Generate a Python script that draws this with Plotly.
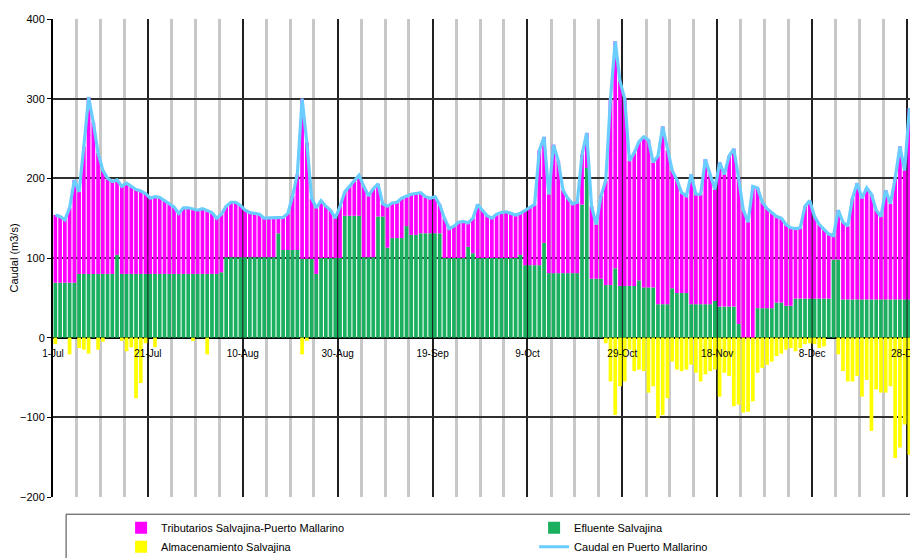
import pandas as pd
import plotly.graph_objects as go

# daily values, 1-Jul to 30-Dec (m3/s); 31-Dec falls outside the picture
dias = pd.date_range("2007-07-01", periods=182, freq="D")

caudal_mallarino = [
    154, 152, 148, 163, 198, 183, 240, 302, 270, 232, 210, 200, 196, 198, 190, 194, 190, 186, 184, 181,
    175, 177, 176, 172, 168, 164, 156, 163, 163, 162, 160, 162, 160, 157, 150, 155, 165, 170, 170, 166,
    160, 157, 156, 155, 150, 150, 150, 151, 151, 156, 178, 205, 300, 245, 175, 163, 172, 165, 160, 150,
    165, 183, 190, 196, 204, 190, 178, 187, 193, 168, 165, 169, 170, 175, 178, 180, 181, 182, 177, 175,
    177, 167, 150, 137, 140, 145, 146, 144, 150, 167, 160, 153, 150, 155, 157, 158, 156, 154, 156, 160,
    164, 167, 235, 252, 180, 242, 222, 185, 175, 168, 170, 230, 257, 165, 142, 178, 197, 300, 372, 322,
    300, 222, 232, 246, 252, 248, 220, 228, 265, 235, 210, 198, 182, 178, 205, 180, 180, 224, 205, 186,
    220, 205, 228, 237, 200, 160, 145, 190, 188, 170, 162, 157, 152, 150, 142, 138, 137, 138, 165, 172,
    152, 142, 136, 130, 128, 160, 145, 140, 175, 194, 175, 188, 180, 160, 152, 185, 168, 200, 240, 210,
    288, 255,
]

efluente = [
    69, 69, 69, 69, 69, 80, 80, 80, 80, 80, 80, 80, 80, 104, 80, 80, 80, 80, 80, 80,
    80, 80, 80, 80, 80, 80, 80, 80, 80, 80, 80, 80, 80, 80, 80, 82, 101, 101, 101, 101,
    101, 101, 101, 101, 101, 101, 101, 131, 110, 110, 110, 110, 99, 99, 99, 80, 100, 100, 100, 100,
    100, 153, 153, 153, 153, 101, 101, 101, 152, 152, 113, 125, 125, 125, 140, 129, 129, 131, 131, 131,
    131, 131, 100, 100, 100, 100, 100, 114, 106, 100, 100, 100, 100, 100, 100, 100, 100, 100, 104, 91,
    91, 91, 91, 119, 81, 81, 81, 81, 81, 81, 81, 167, 213, 74, 74, 74, 66, 66, 87, 65,
    65, 65, 65, 72, 63, 63, 63, 42, 42, 42, 62, 56, 56, 56, 42, 42, 42, 42, 42, 46,
    39, 39, 39, 39, 17, 0, 0, 0, 37, 37, 37, 37, 44, 44, 40, 40, 49, 49, 49, 49,
    49, 49, 49, 49, 98, 98, 48, 48, 48, 48, 48, 48, 48, 48, 48, 48, 48, 48, 48, 48,
    48, 50,
]

tributarios = [
    85, 83, 79, 94, 129, 103, 160, 222, 190, 152, 130, 120, 116, 94, 110, 114, 110, 106, 104, 101,
    95, 97, 96, 92, 88, 84, 76, 83, 83, 82, 80, 82, 80, 77, 70, 73, 64, 69, 69, 65,
    59, 56, 55, 54, 49, 49, 49, 20, 41, 46, 68, 95, 201, 146, 76, 83, 72, 65, 60, 50,
    65, 30, 37, 43, 51, 89, 77, 86, 41, 16, 52, 44, 45, 50, 38, 51, 52, 51, 46, 44,
    46, 36, 50, 37, 40, 45, 46, 30, 44, 67, 60, 53, 50, 55, 57, 58, 56, 54, 52, 69,
    73, 76, 144, 133, 99, 161, 141, 104, 94, 87, 89, 63, 44, 91, 68, 104, 131, 234, 285, 257,
    235, 157, 167, 174, 189, 185, 157, 186, 223, 193, 148, 142, 126, 122, 163, 138, 138, 182, 163, 140,
    181, 166, 189, 198, 183, 160, 145, 190, 151, 133, 125, 120, 108, 106, 102, 98, 88, 89, 116, 123,
    103, 93, 87, 81, 30, 62, 97, 92, 127, 146, 127, 140, 132, 112, 104, 137, 120, 152, 192, 162,
    240, 205,
]

almacenamiento = [
    -8, 0, 0, -21, 0, -13, -15, -20, 0, -15, -5, 0, 0, 0, -4, -17, -12, -76, -57, -7,
    0, -12, 0, 0, 0, 0, 0, 0, 0, -4, 0, 0, -21, 0, 0, 0, 0, 0, 0, 0,
    0, 0, 0, 0, 0, 0, 0, 0, 0, 0, 0, 0, -21, -4, 0, 0, 0, 0, 0, 0,
    0, 0, 0, 0, 0, 0, 0, 0, 0, 0, 0, 0, 0, 0, 0, 0, 0, 0, 0, 0,
    0, 0, 0, 0, 0, 0, 0, 0, 0, 0, 0, 0, 0, 0, 0, 0, 0, 0, 0, 0,
    0, 0, 0, 0, 0, 0, 0, 0, 0, 0, 0, 0, 0, 0, 0, 0, -7, -55, -97, -61,
    -55, -15, -42, -40, -42, -69, -61, -101, -97, -76, -30, -40, -42, -40, -34, -44, -55, -46, -42, -40,
    -74, -44, -48, -86, -84, -94, -93, -80, -44, -38, -34, -30, -23, -20, -15, -13, -17, -13, -8, -7,
    -8, -13, -11, 0, 0, -21, -42, -55, -55, -48, -74, -53, -117, -65, -69, -69, -61, -151, -138, -109,
    -147, -109,
]

DAY = 86400000

fig = go.Figure()
fig.add_trace(go.Bar(x=dias, y=efluente, name="Efluente Salvajina", legendrank=2,
                     marker_color="#1BAF60", marker_line_width=0,
                     xperiod=DAY, xperiodalignment="middle"))
fig.add_trace(go.Bar(x=dias, y=tributarios, name="Tributarios Salvajina-Puerto Mallarino",
                     legendrank=1, marker_color="#FF00FF", marker_line_width=0,
                     xperiod=DAY, xperiodalignment="middle"))
fig.add_trace(go.Bar(x=dias, y=almacenamiento, name="Almacenamiento Salvajina", legendrank=3,
                     marker_color="#FFFF00", marker_line_width=0,
                     xperiod=DAY, xperiodalignment="middle"))
fig.add_trace(go.Scatter(x=dias, y=caudal_mallarino, name="Caudal en Puerto Mallarino",
                         legendrank=4, mode="lines", line=dict(color="#6ACDFF", width=3.2),
                         xperiod=DAY, xperiodalignment="middle"))

# frame of the legend box (the box runs past the right and bottom edges)
fig.add_shape(type="rect", xref="paper", yref="paper",
              x0=0.015, x1=1.02, y0=-0.036, y1=-0.16,
              line=dict(color="#404040", width=1), fillcolor="rgba(0,0,0,0)")

fig.update_layout(
    width=918, height=558,
    margin=dict(l=45, r=0, t=11, b=69, autoexpand=False),
    barmode="relative", bargap=0.22,
    plot_bgcolor="white", paper_bgcolor="white",
    font=dict(family="Arial", size=11, color="black"),
    legend=dict(orientation="h", x=0.078, y=-0.034, xanchor="left", yanchor="top",
                entrywidth=368, borderwidth=0, bgcolor="rgba(0,0,0,0)",
                font=dict(size=11), tracegroupgap=0),
)
fig.update_xaxes(
    type="date", range=["2007-07-01", "2008-01-01"],
    tick0="2007-07-01", dtick=20 * DAY, tickformat="%-d-%b",
    showgrid=True, gridcolor="#202020", gridwidth=1.5,
    minor=dict(tick0="2007-07-01", dtick=5 * DAY, showgrid=True,
               gridcolor="#C8C8C8", gridwidth=3),
    anchor="free", position=1 / 3, ticks="outside", ticklen=6,
    tickcolor="rgba(0,0,0,0)", showline=False, zeroline=False,
    tickfont=dict(size=10),
)
fig.update_yaxes(
    range=[-200, 400], dtick=100,
    showgrid=True, gridcolor="#303030", gridwidth=1.5,
    zeroline=True, zerolinecolor="black", zerolinewidth=2,
    showline=True, linecolor="black", linewidth=2,
    ticks="outside", ticklen=4, tickcolor="black",
    title=dict(text="Caudal (m3/s)", font=dict(size=11), standoff=10),
    tickfont=dict(size=11),
)

fig.write_html("out.html")
